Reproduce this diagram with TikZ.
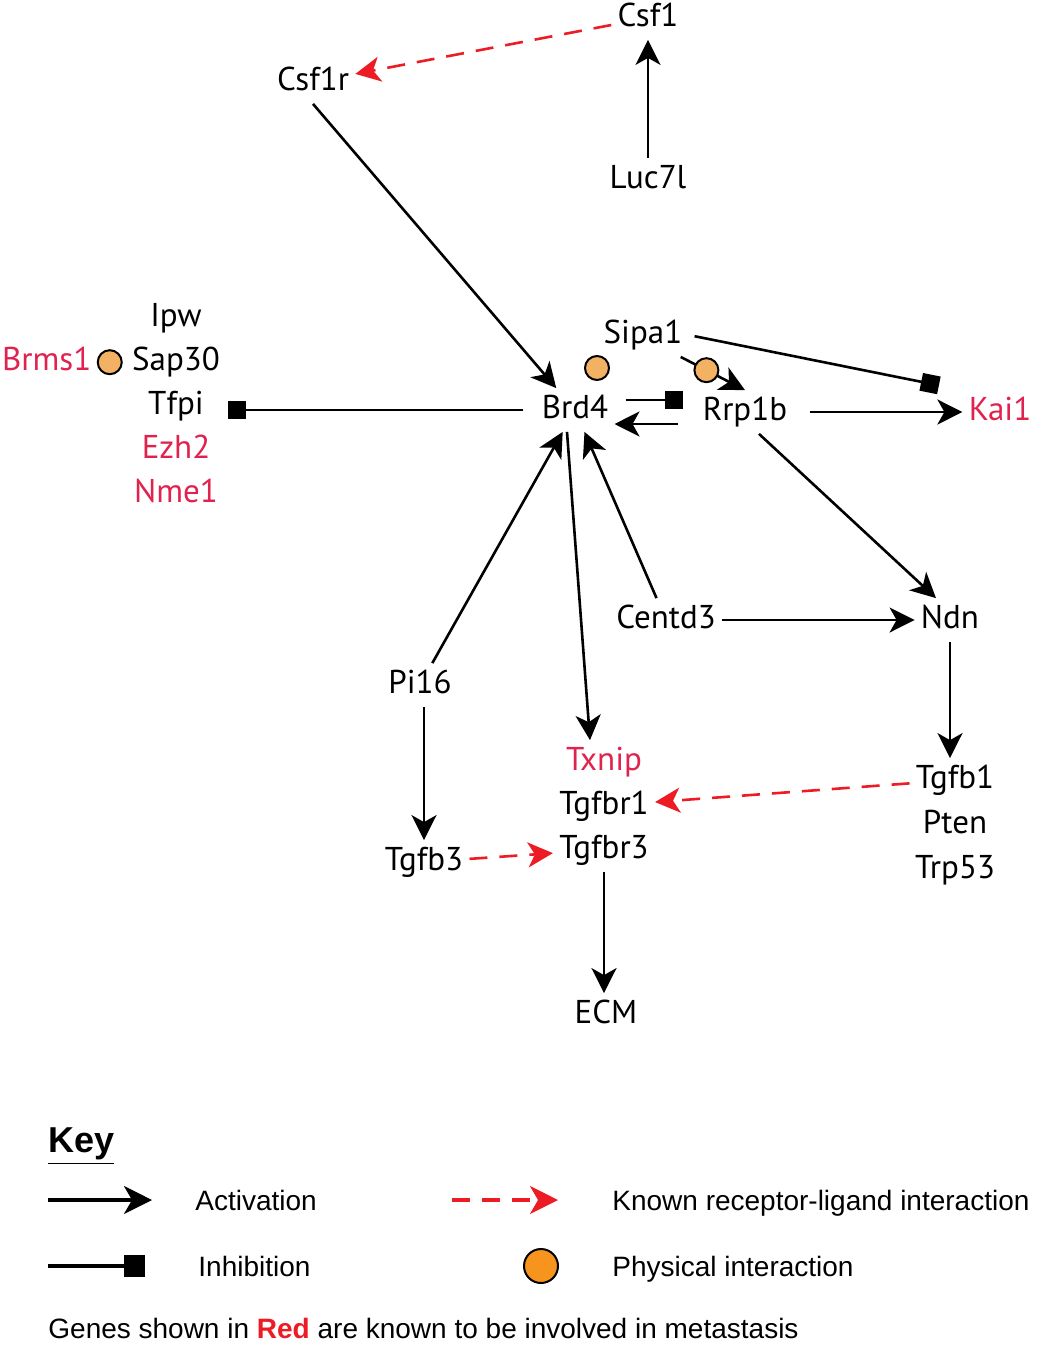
\documentclass[tikz,border=0pt]{standalone}
\usepackage{fontspec}
\setmainfont{PT Sans}
\newfontfamily\keyfont{Liberation Sans}
\usetikzlibrary{arrows.meta, positioning, calc}
\definecolor{gene_red}{HTML}{E0234E}
\definecolor{arrow_red}{HTML}{ED1C24}
\definecolor{phys_orange}{HTML}{F3B263}
\definecolor{key_orange}{HTML}{F7941D}
\tikzset{
  gene/.style={inner sep=3pt,font=\fontsize{16.5}{19}\selectfont,text height=12pt,text depth=3.5pt},
  gene_red/.style={gene,text=gene_red},
  activation/.style={line width=1.3pt,-{Stealth[length=12.5pt,width=12.5pt,inset=3.5pt]}},
  inhibition/.style={line width=1.3pt,-{Square[length=9pt,width=9pt]}},
  ligand/.style={line width=1.3pt,arrow_red,dash pattern=on 9pt off 6pt,-{Stealth[length=12.5pt,width=12.5pt,inset=3.5pt]}},
  physical/.style={circle,draw,line width=1pt,fill=phys_orange,minimum size=12pt,inner sep=0pt},
  keytext/.style={font=\keyfont\fontsize{14}{17}\selectfont,anchor=west,inner sep=0pt,text height=10pt,text depth=0pt},
  keyactivation/.style={line width=1.6pt,-{Stealth[length=14pt,width=14pt,inset=4pt]}},
  keyinhibition/.style={line width=1.6pt,-{Square[length=10.5pt,width=11pt]}},
  keyligand/.style={ligand,line width=1.6pt,-{Stealth[length=14pt,width=14pt,inset=4pt]}},
}

\begin{document}
\begin{tikzpicture}[x=0.5pt,y=-0.5pt]
    \useasboundingbox (0,0) rectangle (1050,1351);
    \node[gene] (csf1) at (648,18) {Csf1};
    \node[gene] (csf1r) at (313,82) {Csf1r};
    \node[gene] (luc7l) at (648,180) {Luc7l};
    \node[gene] (brd4) at (575,410) {Brd4};
    \node[gene] (sipa1) at (643,335) {Sipa1};
    \node[gene] (rrp1b) at (745,412) {Rrp1b};
    \node[gene_red] (kai1) at (1000,412) {Kai1};
    \node[gene] (tfpi) at (176,406) {Tfpi};
    \node[gene,above=0pt of tfpi] (sap30) {Sap30};
    \node[gene,above=0pt of sap30] (ipw) {Ipw};
    \node[gene_red,below=0pt of tfpi] (ezh2) {Ezh2};
    \node[gene_red,below=0pt of ezh2] (nme1) {Nme1};
    \node[physical,left=1.5pt of sap30] (brms1_sap30) {};
    \node[gene_red,left=-0.5pt of brms1_sap30] (brms1) {Brms1};
    \node[physical] (brd4_sipa1) at (597,368) {};
    \node[gene] (centd3) at (666,620) {Centd3};
    \node[gene] (ndn) at (950,620) {Ndn};
    \node[gene] (pi16) at (420,685) {Pi16};
    \node[gene] (tgfb3) at (424,862) {Tgfb3};
    \node[gene_red] (txnip) at (604,762) {Txnip};
    \node[gene,below=0pt of txnip] (tgfbr1) {Tgfbr1};
    \node[gene,below=0pt of tgfbr1] (tgfbr3) {Tgfbr3};
    \node[gene] (tgfb1) at (955,780) {Tgfb1};
    \node[gene,below=0.5pt of tgfb1] (pten) {Pten};
    \node[gene,below=0.5pt of pten] (trp53) {Trp53};
    \node[gene] (ecm) at (606,1015) {ECM};

    \draw[activation] (luc7l) -- (csf1);
    \draw[ligand] (csf1) -- (csf1r);
    \draw[activation] (csf1r.south) -- (brd4);
    \draw[inhibition,shorten <=6pt,shorten >=9pt] (brd4.west) -- (brd4.west -| tfpi.east);
    \draw[inhibition,shorten <=5.5pt,shorten >=7pt] ([yshift=5pt]brd4.east) -- ([yshift=5pt]brd4.east -| rrp1b.west);
    \draw[activation,shorten <=9.5pt] ([yshift=-7pt]brd4.east -| rrp1b.west) -- ([yshift=-7pt]brd4.east);
    \draw[activation] ([xshift=-4pt]sipa1.south east) -- node[physical,pos=.4] (sipa1_rrp1b) {} (rrp1b.north);
    \draw[inhibition,shorten <=3pt,shorten >=12pt] (sipa1.east) -- (kai1.north west);
    \draw[activation,shorten <=8.5pt] (rrp1b.east) -- (kai1.west);
    \draw[activation] ([xshift=7pt]rrp1b.south) -- ([xshift=-7pt]ndn.north);
    \draw[activation] (centd3) -- (ndn);
    \draw[activation] (centd3) -- (brd4);
    \draw[activation] (pi16) -- (brd4);
    \draw[activation] ([xshift=-4pt]brd4.south) -- ([xshift=-7pt]txnip.north);
    \draw[activation] (pi16.south -| tgfb3) -- (tgfb3);
    \draw[ligand] (tgfb3) -- (tgfbr3);
    \draw[ligand] (tgfb1) -- (tgfbr1);
    \draw[activation] (ndn.south) -- (ndn.south |- tgfb1.north);
    \draw[activation] (tgfbr3.south) -- (tgfbr3.south |- ecm.north);

    \node[font=\keyfont\bfseries\fontsize{18}{21}\selectfont,anchor=west,inner sep=0pt] (key) at (48,1146) {\underline{Key}};
    \coordinate (act_a) at (48,1200);
    \coordinate (act_b) at (152,1200);
    \draw[keyactivation] (act_a) -- (act_b);
    \node[keytext] (act_text) at (195,1200) {Activation};
    \coordinate (lig_a) at (452,1200);
    \coordinate (lig_b) at (558,1200);
    \draw[keyligand] (lig_a) -- (lig_b);
    \node[keytext] (lig_text) at (612,1200) {Known receptor-ligand interaction};
    \coordinate (inh_a) at (48,1266);
    \coordinate (inh_b) at (145,1266);
    \draw[keyinhibition] (inh_a) -- (inh_b);
    \node[keytext] (inh_text) at (198,1266) {Inhibition};
    \node[physical,fill=key_orange,minimum size=17pt] (phys_key) at (541,1266) {};
    \node[keytext] (phys_text) at (612,1266) {Physical interaction};
    \node[keytext] (note) at (48,1328) {Genes shown in \textcolor{arrow_red}{\textbf{Red}} are known to be involved in metastasis};
\end{tikzpicture}
\end{document}
